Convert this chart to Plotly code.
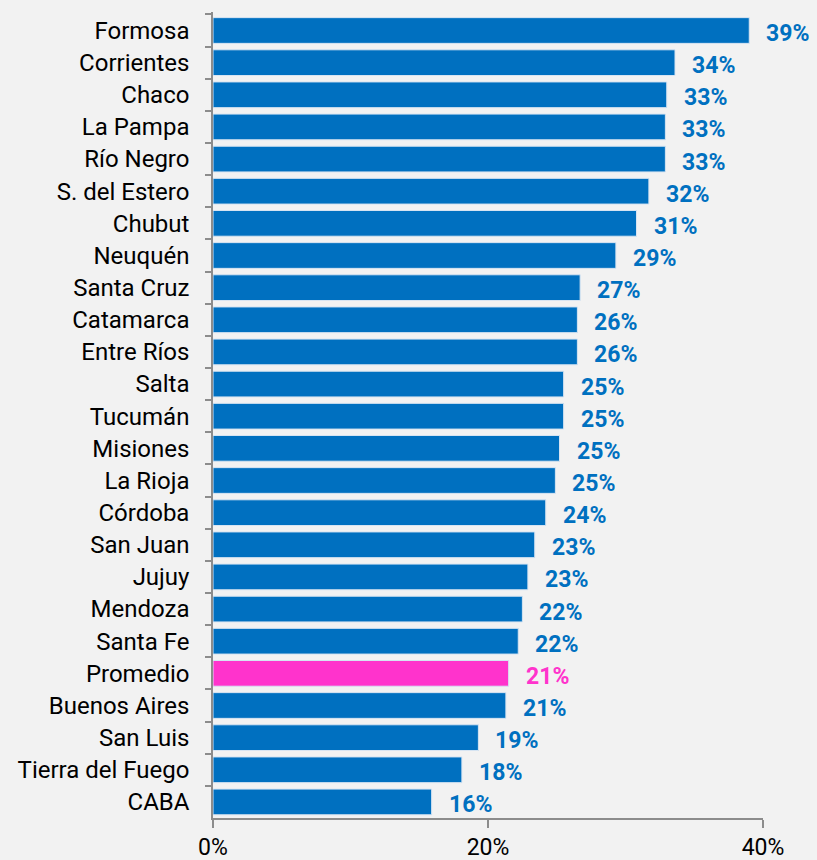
import plotly.graph_objects as go

provincias = ["Formosa", "Corrientes", "Chaco", "La Pampa", "Río Negro", "S. del Estero",
              "Chubut", "Neuquén", "Santa Cruz", "Catamarca", "Entre Ríos", "Salta",
              "Tucumán", "Misiones", "La Rioja", "Córdoba", "San Juan", "Jujuy",
              "Mendoza", "Santa Fe", "Promedio", "Buenos Aires", "San Luis",
              "Tierra del Fuego", "CABA"]
valores = [0.390, 0.336, 0.330, 0.329, 0.329, 0.317, 0.308, 0.293, 0.267, 0.265, 0.265,
           0.255, 0.255, 0.252, 0.249, 0.242, 0.234, 0.229, 0.225, 0.222, 0.215, 0.213,
           0.193, 0.181, 0.159]
etiquetas = ["39%", "34%", "33%", "33%", "33%", "32%", "31%", "29%", "27%", "26%", "26%",
             "25%", "25%", "25%", "25%", "24%", "23%", "23%", "22%", "22%", "21%", "21%",
             "19%", "18%", "16%"]
x_ticks = [0, 0.2, 0.4]
x_ticklabels = ["0%", "20%", "40%"]

AZUL = "#0070c0"
ROSA = "#ff33cc"
colores = [ROSA if p == "Promedio" else AZUL for p in provincias]
FUENTE = "Roboto, 'Open Sans', sans-serif"

fig = go.Figure()
fig.add_trace(go.Bar(
    y=provincias, x=valores, orientation="h",
    marker=dict(color=colores, line=dict(color="#d6e4f2", width=1)),
    hoverinfo="skip",
))

for p, v, t, c in zip(provincias, valores, etiquetas, colores):
    fig.add_annotation(x=v, y=p, text=f"<b>{t}</b>", showarrow=False,
                       xanchor="left", yanchor="middle", xshift=15, yshift=-3,
                       font=dict(family=FUENTE, size=23, color=c))

fig.update_layout(
    width=817, height=860,
    paper_bgcolor="#f2f2f2", plot_bgcolor="#f2f2f2",
    margin=dict(l=213, r=54, t=12, b=42),
    bargap=0.2,
    showlegend=False,
    font=dict(family=FUENTE, size=24, color="#000000"),
)
fig.update_xaxes(range=[0, 0.4], tickvals=x_ticks, ticktext=x_ticklabels,
                 showgrid=False, zeroline=False, showline=True, linecolor="#8c8c8c",
                 linewidth=1.5, ticks="outside", ticklen=8, tickcolor="#8c8c8c",
                 tickwidth=1.5, tickfont=dict(size=23), automargin=False,
                 fixedrange=True)
fig.update_yaxes(categoryorder="array", categoryarray=provincias, autorange="reversed",
                 showgrid=False, showline=True, linecolor="#8c8c8c", linewidth=1.5,
                 ticks="outside", ticklen=6, tickcolor="#8c8c8c", tickwidth=1.5,
                 tickson="boundaries", ticklabelstandoff=17, tickfont=dict(size=24),
                 automargin=False, fixedrange=True)

fig.write_html("out.html", config={"displayModeBar": False},
               post_script="document.body.style.margin='0';")
